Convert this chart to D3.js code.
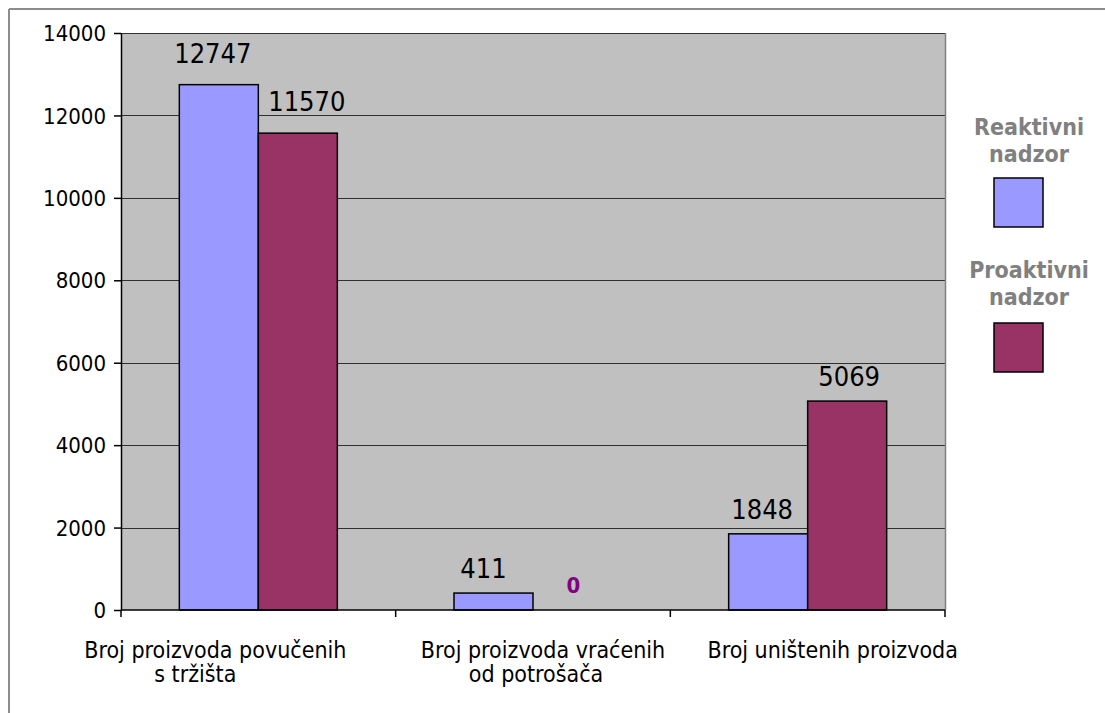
<!DOCTYPE html>
<html>
<head>
<meta charset="utf-8">
<script src="https://cdn.jsdelivr.net/npm/d3@7"></script>
<style>
  html, body { margin: 0; padding: 0; background: #fff; }
  svg { display: block; }
  text { font-family: "DejaVu Sans Condensed", "DejaVu Sans", sans-serif; font-stretch: condensed; }
</style>
</head>
<body>
<svg id="chart" width="1105" height="713"></svg>
<script>
// ---- data ----
const categories = ["Broj proizvoda povučenih s tržišta", "Broj proizvoda vraćenih od potrošača", "Broj uništenih proizvoda"];
const categoryLines = [["Broj proizvoda povučenih", "s tržišta"], ["Broj proizvoda vraćenih", "od potrošača"], ["Broj uništenih proizvoda"]];
const seriesNames = ["Reaktivni nadzor", "Proaktivni nadzor"];
const legendLines = [["Reaktivni", "nadzor"], ["Proaktivni", "nadzor"]];
const reaktivni = [12747, 411, 1848];
const proaktivni = [11570, 0, 5069];
const yTicks = [0, 2000, 4000, 6000, 8000, 10000, 12000, 14000];

// ---- layout ----
const colors = ["#9999FF", "#993366"];
const plot = { left: 121, top: 33, right: 945, bottom: 610 };
const svg = d3.select("#chart");

// outer frame (top and left edges visible)
svg.append("line").attr("x1", 9).attr("x2", 1105).attr("y1", 9).attr("y2", 9).attr("stroke", "#8c8c8c").attr("stroke-width", 2);
svg.append("line").attr("x1", 9).attr("x2", 9).attr("y1", 9).attr("y2", 713).attr("stroke", "#8c8c8c").attr("stroke-width", 2);

const x = d3.scaleBand().domain(categories).range([plot.left, plot.right]).paddingInner(0).paddingOuter(0);
const bw = x.bandwidth();
const xs = d3.scaleBand().domain(seriesNames).range([bw / 2 - 79, bw / 2 + 79]).padding(0);
const y = d3.scaleLinear().domain([0, 14000]).range([plot.bottom, plot.top]);

// plot background
svg.append("rect").attr("x", plot.left).attr("y", plot.top)
  .attr("width", plot.right - plot.left).attr("height", plot.bottom - plot.top)
  .attr("fill", "#C0C0C0");

// gridlines
svg.append("g").selectAll("line").data(yTicks.filter(d => d > 0)).join("line")
  .attr("x1", plot.left).attr("x2", plot.right)
  .attr("y1", d => Math.round(y(d)) + 0.5).attr("y2", d => Math.round(y(d)) + 0.5)
  .attr("stroke", "#303030").attr("stroke-width", 1);

// right border of plot
svg.append("line").attr("x1", plot.right + 0.5).attr("x2", plot.right + 0.5)
  .attr("y1", plot.top).attr("y2", plot.bottom).attr("stroke", "#808080").attr("stroke-width", 1.5);

// bars
const rows = categories.map((c, i) => ({ cat: c, i, vals: [reaktivni[i], proaktivni[i]] }));
const groups = svg.append("g").selectAll("g").data(rows).join("g")
  .attr("transform", d => `translate(${x(d.cat)},0)`);
groups.selectAll("rect").data(d => d.vals.map((v, k) => ({ v, k, s: seriesNames[k] })).filter(e => e.v > 0)).join("rect")
  .attr("x", e => xs(e.s)).attr("width", xs.bandwidth())
  .attr("y", e => y(e.v)).attr("height", e => y(0) - y(e.v))
  .attr("fill", e => colors[e.k]).attr("stroke", "#000").attr("stroke-width", 1.5);

// data labels
const lift = [22, 15, 15];
const labelDx = [[-6, 9], [-10, 1], [-6, 2]];
groups.each(function (d) {
  const g = d3.select(this);
  d.vals.forEach((v, k) => {
    const zero = v === 0;
    g.append("text")
      .attr("x", xs(seriesNames[k]) + xs.bandwidth() / 2 + labelDx[d.i][k])
      .attr("y", y(v) - (zero ? 17 : lift[d.i]))
      .attr("text-anchor", "middle")
      .attr("font-size", zero ? 22 : 27)
      .attr("font-weight", zero ? "bold" : "normal")
      .attr("fill", zero ? "#800080" : "#000")
      .text(v);
  });
});

// y axis
const yAxis = svg.append("g").attr("transform", `translate(${plot.left},0)`)
  .call(d3.axisLeft(y).tickValues(yTicks).tickFormat(d3.format("d")).tickSize(7).tickSizeOuter(0).tickPadding(8));
yAxis.select(".domain").attr("stroke", "#000").attr("stroke-width", 1.5);
yAxis.selectAll(".tick line").attr("stroke", "#000").attr("stroke-width", 1.5);
yAxis.selectAll(".tick text").attr("font-size", 22).attr("font-family", null).attr("fill", "#000").attr("dy", "0.35em");

// x axis line and boundary ticks
svg.append("line").attr("x1", plot.left).attr("x2", plot.right)
  .attr("y1", plot.bottom).attr("y2", plot.bottom).attr("stroke", "#000").attr("stroke-width", 1.5);
const bounds = categories.map(c => x(c)).concat([x.range()[1]]);
svg.append("g").selectAll("line").data(bounds).join("line")
  .attr("x1", d => d).attr("x2", d => d).attr("y1", plot.bottom).attr("y2", plot.bottom + 7)
  .attr("stroke", "#000").attr("stroke-width", 1.5);

// category labels (Excel-like uneven alignment)
const lineDx = [[-43, -63], [10, 3], [25]];
categories.forEach((c, i) => {
  const cx = x(c) + bw / 2;
  categoryLines[i].forEach((ln, j) => {
    svg.append("text").attr("x", cx + lineDx[i][j]).attr("y", 658 + j * 24)
      .attr("text-anchor", "middle").attr("font-size", 23).attr("fill", "#000").text(ln);
  });
});

// legend
const legTop = [135, 278];
const boxTop = [178, 323];
seriesNames.forEach((s, k) => {
  legendLines[k].forEach((ln, j) => {
    svg.append("text").attr("x", 1029).attr("y", legTop[k] + j * 27)
      .attr("text-anchor", "middle").attr("font-size", 23).attr("font-weight", "bold")
      .attr("fill", "#808080").text(ln);
  });
  svg.append("rect").attr("x", 994).attr("y", boxTop[k]).attr("width", 49).attr("height", 49)
    .attr("fill", colors[k]).attr("stroke", "#000").attr("stroke-width", 1.5);
});
</script>
</body>
</html>
